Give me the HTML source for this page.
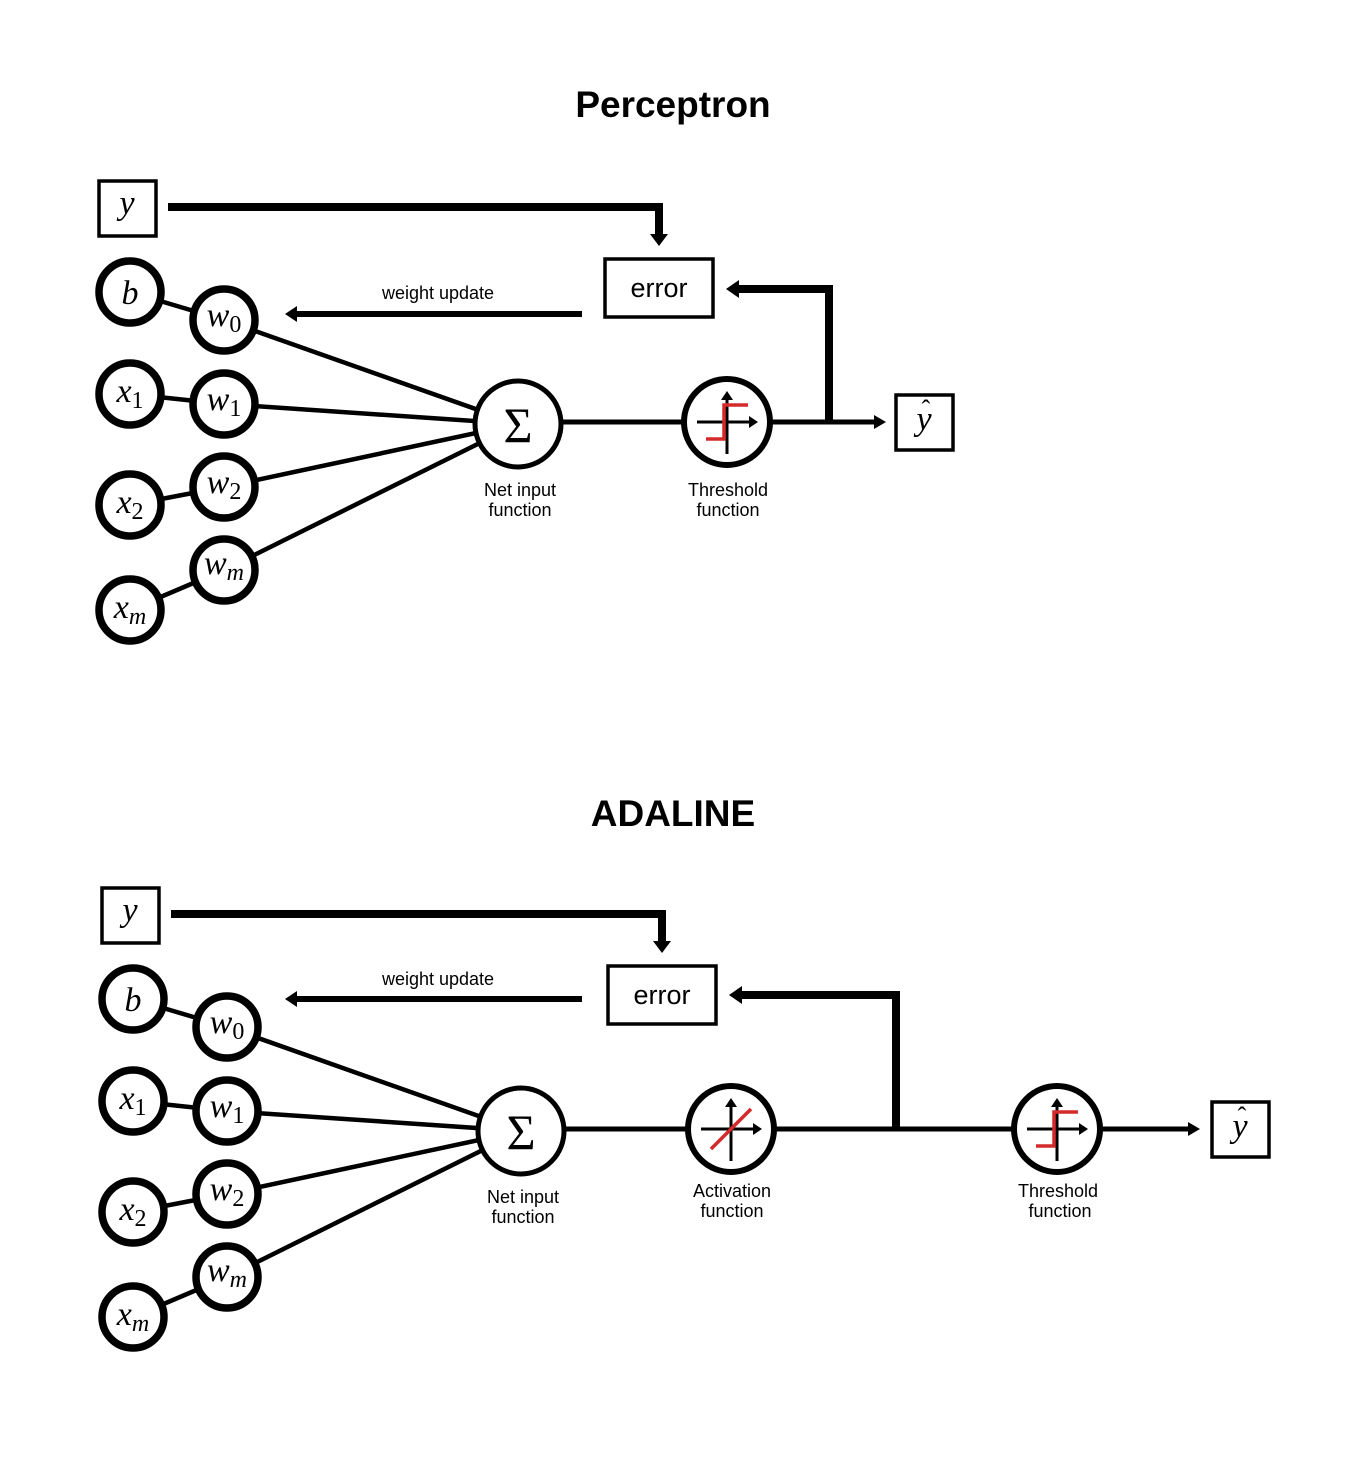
<!DOCTYPE html>
<html><head><meta charset="utf-8"><style>
html,body{margin:0;padding:0;background:#fff;}
svg{display:block;}
.t{font-family:"Liberation Sans",sans-serif;fill:#000;}
.m{font-family:"Liberation Serif",serif;font-style:italic;fill:#000;}
</style></head><body>
<svg width="1346" height="1460" viewBox="0 0 1346 1460" xmlns="http://www.w3.org/2000/svg">
<defs>
<g id="step">
<line x1="-30" y1="0" x2="24" y2="0" stroke="#000" stroke-width="3"/>
<path d="M22,-6 L31,0 L22,6 Z" fill="#000"/>
<line x1="0" y1="32" x2="0" y2="-24" stroke="#000" stroke-width="3"/>
<path d="M-6,-22 L0,-31 L6,-22 Z" fill="#000"/>
<path d="M-21,17 L-3,17 L-3,-17 L21,-17" stroke="#d42a2a" stroke-width="3.5" fill="none"/>
</g>
<g id="left">
<g stroke="#000" stroke-width="4.5">
<line x1="130" y1="292" x2="224" y2="320"/>
<line x1="130" y1="394" x2="224" y2="404"/>
<line x1="130" y1="505" x2="224" y2="487"/>
<line x1="130" y1="610" x2="224" y2="570"/>
<line x1="224" y1="320" x2="518" y2="424"/>
<line x1="224" y1="404" x2="518" y2="424"/>
<line x1="224" y1="487" x2="518" y2="424"/>
<line x1="224" y1="570" x2="518" y2="424"/>
</g>
<g fill="#fff" stroke="#000" stroke-width="7.5">
<circle cx="130" cy="292" r="31"/>
<circle cx="130" cy="394" r="31"/>
<circle cx="130" cy="505" r="31"/>
<circle cx="130" cy="610" r="31"/>
<circle cx="224" cy="320" r="31"/>
<circle cx="224" cy="404" r="31"/>
<circle cx="224" cy="487" r="31"/>
<circle cx="224" cy="570" r="31"/>
</g>
<circle cx="518" cy="424" r="43" fill="#fff" stroke="#000" stroke-width="5"/>
<text x="518" y="442" font-family="Liberation Serif,serif" font-size="50" text-anchor="middle">Σ</text>
<text class="m" x="130" y="304" font-size="34" text-anchor="middle">b</text>
<text class="m" x="130" y="402" font-size="34" text-anchor="middle">x<tspan font-style="normal" font-size="24" dy="6">1</tspan></text>
<text class="m" x="130" y="513" font-size="34" text-anchor="middle">x<tspan font-style="normal" font-size="24" dy="6">2</tspan></text>
<text class="m" x="130" y="618" font-size="34" text-anchor="middle">x<tspan font-size="24" dy="6">m</tspan></text>
<text class="m" x="224" y="326" font-size="34" text-anchor="middle">w<tspan font-style="normal" font-size="24" dy="6">0</tspan></text>
<text class="m" x="224" y="410" font-size="34" text-anchor="middle">w<tspan font-style="normal" font-size="24" dy="6">1</tspan></text>
<text class="m" x="224" y="493" font-size="34" text-anchor="middle">w<tspan font-style="normal" font-size="24" dy="6">2</tspan></text>
<text class="m" x="224" y="574" font-size="34" text-anchor="middle">w<tspan font-size="24" dy="6">m</tspan></text>
<rect x="99" y="181" width="57" height="55" fill="#fff" stroke="#000" stroke-width="3.5"/>
<text class="m" x="127" y="214" font-size="34" text-anchor="middle">y</text>
<path d="M168,207 L659,207 L659,236" stroke="#000" stroke-width="8" fill="none"/>
<path d="M650,234 L659,246 L668,234 Z" fill="#000"/>
<rect x="605" y="259" width="108" height="58" fill="#fff" stroke="#000" stroke-width="3.5"/>
<text class="t" x="659" y="297" font-size="27" text-anchor="middle">error</text>
<text class="t" x="520" y="496" font-size="18" text-anchor="middle">Net input</text>
<text class="t" x="520" y="516" font-size="18" text-anchor="middle">function</text>
</g>
</defs>

<!-- Perceptron -->
<text class="t" x="673" y="117" font-size="37" font-weight="bold" text-anchor="middle">Perceptron</text>
<use href="#left"/>
<line x1="582" y1="314" x2="296" y2="314" stroke="#000" stroke-width="6"/>
<path d="M297,306 L285,314 L297,322 Z" fill="#000"/>
<text class="t" x="438" y="299" font-size="18" text-anchor="middle">weight update</text>
<line x1="561" y1="422" x2="684" y2="422" stroke="#000" stroke-width="5"/>
<line x1="771" y1="422" x2="876" y2="422" stroke="#000" stroke-width="5"/>
<path d="M874,415 L886,422 L874,429 Z" fill="#000"/>
<path d="M829,422 L829,289 L737,289" stroke="#000" stroke-width="8" fill="none"/>
<path d="M739,280 L726,289 L739,298 Z" fill="#000"/>
<circle cx="727" cy="422" r="43" fill="#fff" stroke="#000" stroke-width="6"/>
<use href="#step" x="727" y="422"/>
<text class="t" x="728" y="496" font-size="18" text-anchor="middle">Threshold</text>
<text class="t" x="728" y="516" font-size="18" text-anchor="middle">function</text>
<rect x="896" y="395" width="57" height="55" fill="#fff" stroke="#000" stroke-width="3.5"/>
<text class="m" x="924" y="430" font-size="34" text-anchor="middle">y</text>
<text x="926" y="418" font-family="Liberation Serif,serif" font-size="26" text-anchor="middle">ˆ</text>

<!-- ADALINE -->
<text class="t" x="673" y="826" font-size="37" font-weight="bold" text-anchor="middle">ADALINE</text>
<use href="#left" transform="translate(3,707)"/>
<line x1="582" y1="999" x2="296" y2="999" stroke="#000" stroke-width="6"/>
<path d="M297,991 L285,999 L297,1007 Z" fill="#000"/>
<text class="t" x="438" y="985" font-size="18" text-anchor="middle">weight update</text>
<line x1="564" y1="1129" x2="1190" y2="1129" stroke="#000" stroke-width="5"/>
<path d="M1188,1122 L1200,1129 L1188,1136 Z" fill="#000"/>
<path d="M896,1129 L896,995 L741,995" stroke="#000" stroke-width="8" fill="none"/>
<path d="M742,986 L729,995 L742,1004 Z" fill="#000"/>
<circle cx="731" cy="1129" r="43" fill="#fff" stroke="#000" stroke-width="6"/>
<g transform="translate(731,1129)">
<line x1="-30" y1="0" x2="24" y2="0" stroke="#000" stroke-width="3"/>
<path d="M22,-6 L31,0 L22,6 Z" fill="#000"/>
<line x1="0" y1="32" x2="0" y2="-24" stroke="#000" stroke-width="3"/>
<path d="M-6,-22 L0,-31 L6,-22 Z" fill="#000"/>
<line x1="-20" y1="20" x2="20" y2="-20" stroke="#d42a2a" stroke-width="3.5"/>
</g>
<text class="t" x="732" y="1197" font-size="18" text-anchor="middle">Activation</text>
<text class="t" x="732" y="1217" font-size="18" text-anchor="middle">function</text>
<circle cx="1057" cy="1129" r="43" fill="#fff" stroke="#000" stroke-width="6"/>
<use href="#step" x="1057" y="1129"/>
<text class="t" x="1058" y="1197" font-size="18" text-anchor="middle">Threshold</text>
<text class="t" x="1060" y="1217" font-size="18" text-anchor="middle">function</text>
<rect x="1212" y="1102" width="57" height="55" fill="#fff" stroke="#000" stroke-width="3.5"/>
<text class="m" x="1240" y="1137" font-size="34" text-anchor="middle">y</text>
<text x="1242" y="1125" font-family="Liberation Serif,serif" font-size="26" text-anchor="middle">ˆ</text>
</svg>
</body></html>
